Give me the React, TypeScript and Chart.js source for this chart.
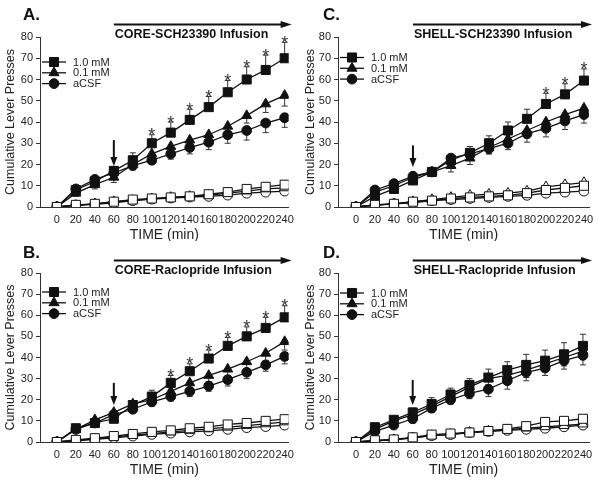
import React, { useEffect, useRef } from "react";
import { Chart, registerables } from "chart.js";

Chart.register(...registerables);

// ---------- data ----------
const TIMES = [0, 20, 40, 60, 80, 100, 120, 140, 160, 180, 200, 220, 240];
const X_TICKS = [0, 20, 40, 60, 80, 100, 120, 140, 160, 180, 200, 220, 240];
const LEGEND_LABELS = ["1.0 mM", "0.1 mM", "aCSF"];

// Panel A: CORE-SCH23390
const A_HIGH = [0, 8, 12, 17, 22, 30, 35, 41, 47, 54, 60, 64.5, 70];
const A_HIGH_ERR = [0, 1, 1.5, 2, 3.5, 4, 5, 5, 5, 5.5, 6, 7, 7.5];
const A_LOW = [0, 6.5, 10.5, 14, 20, 25, 28.5, 31.5, 34, 38, 43, 48.5, 52.5];
const A_LOW_ERR = [0, 1.5, 2, 2.5, 2, 2.5, 2.5, 3, 3, 3, 3.5, 4, 5];
const A_ACSF = [0, 8.5, 13, 16, 19.5, 22, 25, 28, 30.5, 34, 36, 39.5, 42];
const A_ACSF_ERR = [0, 1.5, 2, 2.5, 2, 2, 2.5, 3, 3.5, 4, 4.5, 4.5, 4.5];
const A_HIGH_OPEN = [0, 1, 1.5, 2.5, 3.5, 4, 4.5, 5, 6, 7, 8.5, 9.5, 10.5];
const A_LOW_OPEN = [0, 0.8, 1.5, 2.5, 3, 3.8, 4.5, 5, 5.5, 6.5, 7.5, 8.5, 9];
const A_ACSF_OPEN = [0, 0.8, 1.3, 2, 3, 3.7, 4.2, 4.7, 5, 5.6, 6.5, 7, 7.5];
const A_STARS = [100, 120, 140, 160, 180, 200, 220, 240];

// Panel C: SHELL-SCH23390
const C_HIGH = [0, 5, 8.5, 12.5, 16.5, 22, 25.5, 30, 36, 41.5, 48.5, 53, 59.5];
const C_HIGH_ERR = [0, 1, 1.5, 2, 1.5, 2, 3, 3.5, 4, 4.5, 5, 5, 5.5];
const C_LOW = [0, 7, 10, 14, 16.5, 19.5, 23, 28, 32, 36, 40, 43.5, 46.5];
const C_LOW_ERR = [0, 1.5, 2, 2.5, 2, 3, 3, 3, 3, 3.5, 3.5, 3.5, 3.5];
const C_ACSF = [0, 8, 11, 14.5, 16.5, 23, 25, 27.5, 30, 34.5, 37, 40.5, 43.5];
const C_ACSF_ERR = [0, 1.5, 2, 2, 2, 2, 2.5, 2.5, 3, 4, 4, 4, 4];
const C_HIGH_OPEN = [0, 1, 1.5, 2.5, 3, 4, 4.5, 5, 5.5, 6.5, 8, 9, 10];
const C_LOW_OPEN = [0, 1, 1.5, 2.5, 3.5, 4.5, 5.5, 6, 6.5, 7.5, 9.5, 10.5, 11.5];
const C_ACSF_OPEN = [0, 0.8, 1.5, 2, 3, 3.5, 4, 4.5, 5, 5.5, 6.5, 7, 7.5];
const C_STARS = [200, 220, 240];

// Panel B: CORE-Raclopride
const B_HIGH = [0, 6.5, 9, 11, 17.5, 21.5, 28, 33.5, 39.5, 45.5, 50, 54, 59];
const B_HIGH_ERR = [0, 1, 1.5, 2, 2, 3, 3.5, 3.5, 4, 4, 4.5, 5, 5.5];
const B_LOW = [0, 6, 10.5, 14, 18, 20, 24, 28, 31.5, 34.5, 38, 42, 47.5];
const B_LOW_ERR = [0, 1, 1.5, 2, 2, 2, 2.5, 2.5, 3, 3, 3.5, 3.5, 4];
const B_ACSF = [0, 6, 9, 13, 15.5, 19, 21.5, 24, 26.5, 29.5, 33, 36.5, 40.5];
const B_ACSF_ERR = [0, 1, 1.5, 2, 1.5, 2, 2, 2.5, 2.5, 3, 3, 3, 3.5];
const B_HIGH_OPEN = [0, 1, 1.8, 2.8, 3.8, 4.8, 5.5, 6.5, 7.2, 8.3, 9, 10, 10.8];
const B_LOW_OPEN = [0, 0.8, 1.5, 2.4, 3.2, 4, 4.8, 5.5, 6.2, 7, 7.8, 8.6, 9.5];
const B_ACSF_OPEN = [0, 0.6, 1.3, 2, 2.8, 3.6, 4.2, 4.8, 5.3, 6, 6.8, 7.3, 8];
const B_STARS = [120, 140, 160, 180, 200, 220, 240];

// Panel D: SHELL-Raclopride
const D_HIGH = [0, 7, 10.5, 14, 18, 22.5, 27, 30.5, 34, 36.5, 38.5, 41.5, 45.5];
const D_HIGH_ERR = [0, 1, 1.5, 2, 3, 3, 3, 4, 4, 5, 5, 5.5, 5.5];
const D_LOW = [0, 6, 10, 13, 17, 21.5, 26, 30, 31.5, 34, 37, 40, 43];
const D_LOW_ERR = [0, 1, 1.5, 2, 2, 2, 2.5, 3, 3.5, 3.5, 3.5, 4, 4];
const D_ACSF = [0, 5, 8, 11, 16, 20, 23, 25, 29, 33, 35, 38.5, 41];
const D_ACSF_ERR = [0, 1, 1.5, 2, 2, 2, 2.5, 3.5, 4, 4, 3.5, 4, 4.5];
const D_HIGH_OPEN = [0, 0.8, 1.2, 2.2, 3.5, 4, 4.5, 5.2, 6.2, 7.5, 9.5, 10, 11];
const D_LOW_OPEN = [0, 0.6, 1.1, 2, 3, 3.6, 4.6, 5.2, 5.8, 6.6, 7.2, 7.8, 8.5];
const D_ACSF_OPEN = [0, 0.5, 1, 2, 3, 3.5, 4.5, 5, 5.5, 6, 6.5, 7.2, 8];
const D_STARS: number[] = [];

// ---------- layout / style ----------
const FONT = "'Liberation Sans', Arial, Helvetica, sans-serif";
const INK = "#111";

type PanelCfg = {
  label: string;
  title: string;
  x: number;
  y: number;
  w: number;
  h: number;
  axisLeft: number;
  plotTop: number;
  plotRight: number;
  xAxisH: number;
  xMin: number;
  xMax: number;
  xTitlePad: number;
  labelBase: number;
  legendTop: number;
  downArrow: [number, number];
  high: number[];
  highErr: number[];
  low: number[];
  lowErr: number[];
  acsf: number[];
  acsfErr: number[];
  highOpen: number[];
  lowOpen: number[];
  acsfOpen: number[];
  stars: number[];
};

const PANELS: PanelCfg[] = [
  {
    label: "A.", title: "CORE-SCH23390 Infusion", x: 0, y: 0, w: 300, h: 241,
    axisLeft: 40, plotTop: 37, plotRight: 10, xAxisH: 34, xMin: -17.8, xMax: 244.2, xTitlePad: -3,
    labelBase: 20, legendTop: 25, downArrow: [31.5, 19.3],
    high: A_HIGH, highErr: A_HIGH_ERR, low: A_LOW, lowErr: A_LOW_ERR, acsf: A_ACSF, acsfErr: A_ACSF_ERR,
    highOpen: A_HIGH_OPEN, lowOpen: A_LOW_OPEN, acsfOpen: A_ACSF_OPEN, stars: A_STARS,
  },
  {
    label: "C.", title: "SHELL-SCH23390 Infusion", x: 300, y: 0, w: 300, h: 241,
    axisLeft: 38, plotTop: 37, plotRight: 11, xAxisH: 34, xMin: -18.9, xMax: 245.3, xTitlePad: -3,
    labelBase: 20, legendTop: 20.5, downArrow: [29, 18.8],
    high: C_HIGH, highErr: C_HIGH_ERR, low: C_LOW, lowErr: C_LOW_ERR, acsf: C_ACSF, acsfErr: C_ACSF_ERR,
    highOpen: C_HIGH_OPEN, lowOpen: C_LOW_OPEN, acsfOpen: C_ACSF_OPEN, stars: C_STARS,
  },
  {
    label: "B.", title: "CORE-Raclopride Infusion", x: 0, y: 241, w: 300, h: 242,
    axisLeft: 40, plotTop: 32, plotRight: 10, xAxisH: 41, xMin: -17.8, xMax: 244.2, xTitlePad: 4,
    labelBase: 16.5, legendTop: 19, downArrow: [28, 17.5],
    high: B_HIGH, highErr: B_HIGH_ERR, low: B_LOW, lowErr: B_LOW_ERR, acsf: B_ACSF, acsfErr: B_ACSF_ERR,
    highOpen: B_HIGH_OPEN, lowOpen: B_LOW_OPEN, acsfOpen: B_ACSF_OPEN, stars: B_STARS,
  },
  {
    label: "D.", title: "SHELL-Raclopride Infusion", x: 300, y: 241, w: 300, h: 242,
    axisLeft: 38, plotTop: 32, plotRight: 11, xAxisH: 41, xMin: -19.0, xMax: 246.4, xTitlePad: 4,
    labelBase: 16.5, legendTop: 20, downArrow: [29.4, 17.5],
    high: D_HIGH, highErr: D_HIGH_ERR, low: D_LOW, lowErr: D_LOW_ERR, acsf: D_ACSF, acsfErr: D_ACSF_ERR,
    highOpen: D_HIGH_OPEN, lowOpen: D_LOW_OPEN, acsfOpen: D_ACSF_OPEN, stars: D_STARS,
  },
];

const R_RECT = 6.4;
const R_TRI = 5.8;
const R_CIRC = 4.9;

function drawMarker(ctx: CanvasRenderingContext2D, style: string, x: number, y: number, fill: string) {
  ctx.beginPath();
  if (style === "rect") {
    const s = R_RECT * Math.SQRT1_2;
    ctx.rect(x - s, y - s, 2 * s, 2 * s);
  } else if (style === "triangle") {
    const r = R_TRI;
    for (let k = 0; k < 3; k++) {
      const a = (k * 2 * Math.PI) / 3;
      const px = x + Math.sin(a) * r;
      const py = y - Math.cos(a) * r;
      if (k === 0) ctx.moveTo(px, py);
      else ctx.lineTo(px, py);
    }
    ctx.closePath();
  } else {
    ctx.arc(x, y, R_CIRC, 0, Math.PI * 2);
  }
  ctx.fillStyle = fill;
  ctx.fill();
  ctx.strokeStyle = INK;
  ctx.lineWidth = 1;
  ctx.stroke();
}

function makeDecor(p: PanelCfg) {
  const errs = [
    { vals: p.high, err: p.highErr, dir: 1 },
    { vals: p.low, err: p.lowErr, dir: -1 },
    { vals: p.acsf, err: p.acsfErr, dir: -1 },
  ];
  return {
    id: "decor" + p.label,
    beforeDatasetsDraw(chart: any) {
      const xs = chart.scales.x;
      const ys = chart.scales.y;
      const ctx: CanvasRenderingContext2D = chart.ctx;
      ctx.save();
      ctx.strokeStyle = "#333";
      ctx.lineWidth = 1;
      errs.forEach((e) => {
        TIMES.forEach((t, i) => {
          if (!e.err[i]) return;
          const x = xs.getPixelForValue(t);
          const y0 = ys.getPixelForValue(e.vals[i]);
          const y1 = ys.getPixelForValue(e.vals[i] + e.dir * e.err[i]);
          ctx.beginPath();
          ctx.moveTo(x, y0);
          ctx.lineTo(x, y1);
          ctx.moveTo(x - 3, y1);
          ctx.lineTo(x + 3, y1);
          ctx.stroke();
        });
      });
      ctx.restore();
    },
    afterDatasetsDraw(chart: any) {
      const xs = chart.scales.x;
      const ys = chart.scales.y;
      const area = chart.chartArea;
      const ctx: CanvasRenderingContext2D = chart.ctx;
      ctx.save();

      // significance asterisks
      ctx.fillStyle = "#333";
      ctx.font = `18px ${FONT}`;
      ctx.textAlign = "center";
      ctx.textBaseline = "alphabetic";
      p.stars.forEach((t) => {
        const i = TIMES.indexOf(t);
        const x = xs.getPixelForValue(t);
        const yc = ys.getPixelForValue(p.high[i] + p.highErr[i]);
        ctx.fillText("*", x, yc + 6.5);
      });

      // infusion arrow + title
      const ax0 = xs.getPixelForValue(60);
      const ax1 = area.right + 3;
      const ay = area.top - 12.5;
      ctx.strokeStyle = INK;
      ctx.fillStyle = INK;
      ctx.lineWidth = 2;
      ctx.beginPath();
      ctx.moveTo(ax0, ay);
      ctx.lineTo(ax1 - 9, ay);
      ctx.stroke();
      ctx.beginPath();
      ctx.moveTo(ax1, ay);
      ctx.lineTo(ax1 - 11, ay - 3.5);
      ctx.lineTo(ax1 - 11, ay + 3.5);
      ctx.closePath();
      ctx.fill();
      ctx.font = `bold 12.5px ${FONT}`;
      ctx.textAlign = "left";
      ctx.fillText(p.title, ax0 + 1, area.top + 1);

      // down arrow at 60 min
      const dx = xs.getPixelForValue(60);
      const dy0 = ys.getPixelForValue(p.downArrow[0]);
      const dy1 = ys.getPixelForValue(p.downArrow[1]);
      ctx.lineWidth = 2;
      ctx.beginPath();
      ctx.moveTo(dx, dy0);
      ctx.lineTo(dx, dy1 - 7);
      ctx.stroke();
      ctx.beginPath();
      ctx.moveTo(dx, dy1);
      ctx.lineTo(dx - 3.5, dy1 - 9);
      ctx.lineTo(dx + 3.5, dy1 - 9);
      ctx.closePath();
      ctx.fill();

      // legend
      const styles = ["rect", "triangle", "circle"];
      ctx.font = `11px ${FONT}`;
      ctx.textBaseline = "middle";
      LEGEND_LABELS.forEach((lab, k) => {
        const y = area.top + p.legendTop + k * 10.8;
        const lx = area.left;
        ctx.strokeStyle = INK;
        ctx.lineWidth = 1.3;
        ctx.beginPath();
        ctx.moveTo(lx + 2, y);
        ctx.lineTo(lx + 26, y);
        ctx.stroke();
        drawMarker(ctx, styles[k], lx + 14, y, INK);
        ctx.fillStyle = "#222";
        ctx.fillText(lab, lx + 33, y + 0.5);
      });

      // panel letter
      ctx.fillStyle = INK;
      ctx.font = `bold 17px ${FONT}`;
      ctx.textBaseline = "alphabetic";
      ctx.fillText(p.label, 23, p.labelBase);
      ctx.restore();
    },
  };
}

function series(vals: number[], style: string, filled: boolean, radius: number, label: string) {
  return {
    label,
    data: TIMES.map((t, i) => ({ x: t, y: vals[i] })),
    borderColor: INK,
    borderWidth: 1.3,
    pointStyle: style,
    pointRadius: radius,
    pointBackgroundColor: filled ? INK : "#fff",
    pointBorderColor: INK,
    pointBorderWidth: 1,
    fill: false,
    tension: 0,
  };
}

function Panel({ p }: { p: PanelCfg }) {
  const ref = useRef<HTMLCanvasElement | null>(null);
  useEffect(() => {
    if (!ref.current) return;
    const chart = new Chart(ref.current, {
      type: "line",
      data: {
        datasets: [
          series(p.highOpen, "rect", false, R_RECT, "1.0 mM (open)"),
          series(p.lowOpen, "triangle", false, R_TRI, "0.1 mM (open)"),
          series(p.acsfOpen, "circle", false, R_CIRC, "aCSF (open)"),
          series(p.acsf, "circle", true, R_CIRC, LEGEND_LABELS[2]),
          series(p.low, "triangle", true, R_TRI, LEGEND_LABELS[1]),
          series(p.high, "rect", true, R_RECT, LEGEND_LABELS[0]),
        ] as any,
      },
      options: {
        responsive: false,
        animation: false,
        devicePixelRatio: 1,
        layout: { padding: { top: p.plotTop, right: p.plotRight, left: 0, bottom: 0 } },
        plugins: { legend: { display: false }, tooltip: { enabled: false }, title: { display: false } },
        scales: {
          x: {
            type: "linear",
            min: p.xMin,
            max: p.xMax,
            afterBuildTicks: (s: any) => {
              s.ticks = X_TICKS.map((v) => ({ value: v }));
            },
            afterFit: (s: any) => {
              s.height = p.xAxisH;
            },
            ticks: {
              autoSkip: false,
              maxRotation: 0,
              minRotation: 0,
              padding: 6,
              color: "#222",
              font: { family: FONT, size: 11 },
            },
            grid: { drawOnChartArea: false, drawTicks: false },
            border: { display: true, color: "#333", width: 1 },
            title: {
              display: true,
              text: "TIME (min)",
              color: "#222",
              font: { family: FONT, size: 14 },
              padding: { top: 0, bottom: p.xTitlePad },
            },
          },
          y: {
            min: 0,
            max: 80,
            afterFit: (s: any) => {
              s.width = p.axisLeft;
            },
            ticks: { stepSize: 10, padding: 3, color: "#222", font: { family: FONT, size: 11 } },
            grid: { drawOnChartArea: false, drawTicks: true, tickLength: 4, color: "#333" },
            border: { display: true, color: "#333", width: 1 },
            title: {
              display: true,
              text: "Cumulative Lever Presses",
              color: "#222",
              font: { family: FONT, size: 12.5 },
              padding: { top: 3, bottom: 0 },
            },
          },
        },
      } as any,
      plugins: [makeDecor(p)],
    });
    return () => chart.destroy();
  }, [p]);
  return (
    <canvas
      ref={ref}
      width={p.w}
      height={p.h}
      style={{ position: "absolute", left: p.x, top: p.y, width: p.w, height: p.h }}
    />
  );
}

export default function App() {
  return (
    <div style={{ position: "absolute", left: 0, top: 0, width: 600, height: 483, background: "#fff" }}>
      {PANELS.map((p) => (
        <Panel key={p.label} p={p} />
      ))}
    </div>
  );
}
